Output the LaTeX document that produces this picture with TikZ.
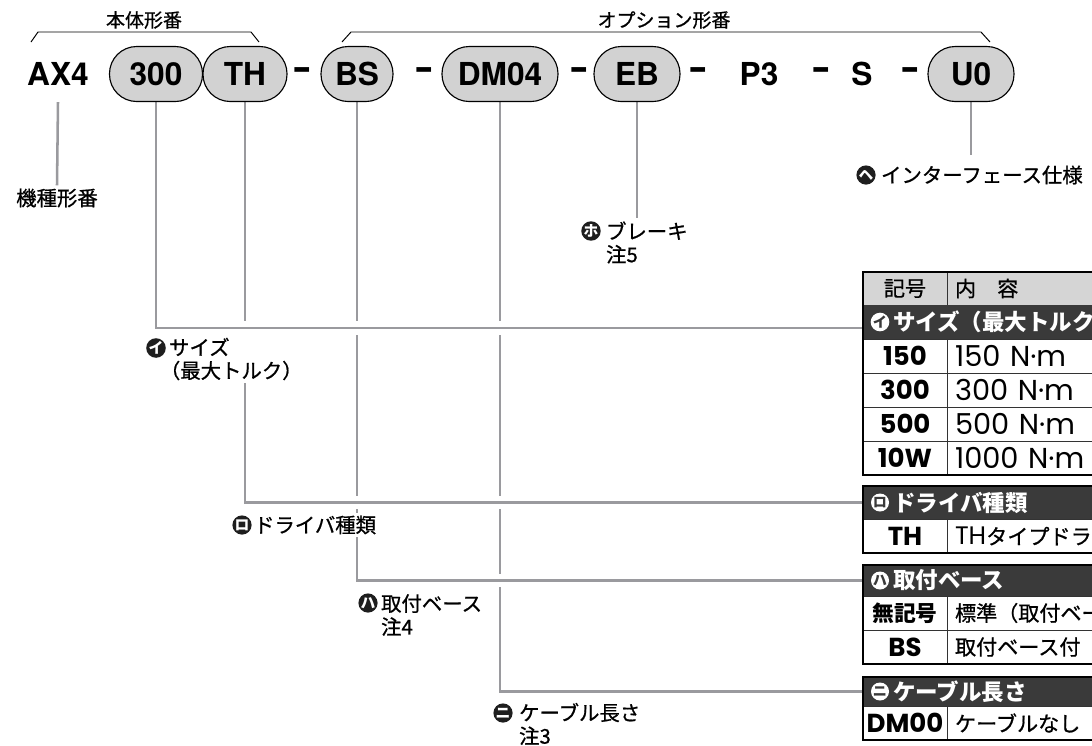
\documentclass[tikz,border=0pt]{standalone}
\usepackage{fontspec}
\setmainfont{Noto Sans CJK JP}
\newfontfamily\jpfont{Noto Sans CJK JP}
\newfontfamily\jpmed{Noto Sans CJK JP}[FakeBold=0.8]
\newfontfamily\codefont{TeX Gyre Heros}
\newfontfamily\numfont{Poppins}
\usepackage{graphicx}
\usepackage{tikz}
\usetikzlibrary{positioning}
\pgfdeclarelayer{back}
\pgfsetlayers{back,main}

\definecolor{pillgray}{HTML}{D2D2D2}
\definecolor{leadgray}{HTML}{9A9A9E}
\definecolor{banddark}{HTML}{3A3A3A}
\definecolor{hdrgray}{HTML}{D5D5D5}
\definecolor{markblack}{HTML}{1E1E1E}
\definecolor{tblline}{HTML}{333333}

\newcommand{\dashbar}{\scalebox{1.7}[1.1]{-}}

\begin{document}
\begin{tikzpicture}[
        x=0.025cm, y=-0.025cm,
        codetext/.style={inner sep=0pt, font=\codefont\bfseries\fontsize{22.5pt}{24pt}\selectfont},
        pill/.style={codetext, rectangle, rounded corners=0.68cm, draw=black, line width=0.8pt, fill=pillgray, minimum height=1.375cm},
        brk/.style={draw=black, line width=0.7pt},
        hdrlbl/.style={font=\jpmed\fontsize{13.5pt}{15pt}\selectfont},
        lbl/.style={fill=white, inner sep=2pt, align=left, font=\jpmed\fontsize{14.5pt}{16.5pt}\selectfont},
        katamark/.style={circle, fill=markblack, inner sep=0pt, minimum size=0.48cm, text=white, font=\jpfont\bfseries\fontsize{10.5pt}{11pt}\selectfont},
        bandmark/.style={circle, fill=white, inner sep=0pt, minimum size=0.45cm, text=banddark, font=\jpfont\bfseries\fontsize{10pt}{10pt}\selectfont},
        leadline/.style={draw=leadgray, line width=1.8pt, preaction={draw=white, line width=9.5pt}},
        cellbase/.style={draw=tblline, line width=0.6pt, inner sep=0pt, outer sep=0pt, minimum height=0.85cm},
        codecell/.style={cellbase, minimum width=2.1cm, font=\numfont\bfseries\fontsize{18.5pt}{20pt}\selectfont},
        desccell/.style={cellbase, minimum width=4.2cm, text width=3.8cm, align=left, font=\numfont\fontsize{20.5pt}{22pt}\selectfont},
        jpcell/.style={font=\jpmed\fontsize{15pt}{17pt}\selectfont},
        hdrcell/.style={fill=hdrgray, minimum height=0.825cm, font=\jpmed\fontsize{15pt}{17pt}\selectfont},
        band/.style={draw=banddark, fill=banddark, line width=0.6pt, inner sep=0pt, outer sep=0pt, minimum width=6.3cm, text width=6.3cm, minimum height=0.85cm, align=left, text=white, font=\jpfont\bfseries\fontsize{16pt}{18pt}\selectfont},
        tblframe/.style={draw=black, line width=1.3pt}
    ]
    \useasboundingbox (0,0) rectangle (1092,745);
    \clip (0,0) rectangle (1092,745);

    % model code row
    \node[codetext] (ax4) at (58,74) {AX4};
    \node[pill, minimum width=2.325cm] (p300) at (156,74) {300};
    \node[pill, minimum width=2.1cm] (pTH) at (245,74) {TH};
    \node[codetext] (dash1) at (302,74) {\dashbar};
    \node[pill, minimum width=1.8cm] (pBS) at (357,74) {BS};
    \node[codetext] (dash2) at (424,74) {\dashbar};
    \node[pill, minimum width=2.9cm] (pDM) at (500,74) {DM04};
    \node[codetext] (dash3) at (579,74) {\dashbar};
    \node[pill, minimum width=2.15cm] (pEB) at (637,74) {EB};
    \node[codetext] (dash4) at (698,74) {\dashbar};
    \node[codetext] (cP3) at (759,74) {P3};
    \node[codetext] (dash5) at (821,74) {\dashbar};
    \node[codetext] (cS) at (862,74) {S};
    \node[codetext] (dash6) at (910,74) {\dashbar};
    \node[pill, minimum width=2.15cm] (pU0) at (971,74) {U0};

    % brackets
    \draw[brk] (31,42) -- (38,32) -- (251,32) -- (259,42);
    \node[hdrlbl] (lblBody) at (144,20) {本体形番};
    \draw[brk] (342,42) -- (351,32) -- (981,32) -- (990,42);
    \node[hdrlbl] (lblOpt) at (664,20) {オプション形番};

    % labels
    \node[lbl] (kishu) at (57,198) {機種形番};
    \node[lbl, anchor=west] (lblI) at (166,359) {サイズ\\\hspace*{-0.45em}（最大トルク）};
    \node[katamark] (mI) at (156,348) {イ};
    \node[lbl, anchor=west] (lblRo) at (251,525) {ドライバ種類};
    \node[katamark] (mRo) at (242,525) {ロ};
    \node[lbl, anchor=west] (lblHa) at (378,615) {取付ベース\\注4};
    \node[katamark] (mHa) at (368,603) {ハ};
    \node[lbl, anchor=west] (lblNi) at (516,724) {ケーブル長さ\\注3};
    \node[katamark] (mNi) at (503,713) {ニ};
    \node[lbl, anchor=west] (lblHo) at (603,242.5) {ブレーキ\\注5};
    \node[katamark] (mHo) at (591,231) {ホ};
    \node[lbl, anchor=west] (lblHe) at (878,175) {インターフェース仕様};
    \node[katamark] (mHe) at (866,175) {ヘ};

    % table: size
    \node[codecell, hdrcell, anchor=north west] (hdrCode) at (863,272) {記号};
    \node[desccell, hdrcell, right=0pt of hdrCode] (hdrDesc) {内　容};
    \node[band, below=0pt of hdrCode.south west, anchor=north west] (bandI) {\mbox{\hspace*{0.75cm}サイズ（最大トルク}};
    \node[codecell, below=0pt of bandI.south west, anchor=north west] (c150) {150};
    \node[desccell, right=0pt of c150] (d150) {150 N·m};
    \node[codecell, below=0pt of c150] (c300) {300};
    \node[desccell, right=0pt of c300] (d300) {300 N·m};
    \node[codecell, below=0pt of c300] (c500) {500};
    \node[desccell, right=0pt of c500] (d500) {500 N·m};
    \node[codecell, below=0pt of c500] (c10W) {10W};
    \node[desccell, right=0pt of c10W] (d10W) {1000 N·m};
    \node[bandmark] (bmI) at ([xshift=0.425cm]bandI.west) {イ};

    % table: driver
    \node[band, anchor=north west, minimum height=0.825cm] (bandRo) at (863,486) {\mbox{\hspace*{0.75cm}ドライバ種類}};
    \node[codecell, below=0pt of bandRo.south west, anchor=north west] (cTH) {TH};
    \node[desccell, right=0pt of cTH] (dTH) {\mbox{\fontsize{18pt}{20pt}\selectfont TH\jpmed\fontsize{15pt}{17pt}\selectfont タイプドライ}};
    \node[bandmark] (bmRo) at ([xshift=0.425cm]bandRo.west) {ロ};

    % table: base
    \node[band, anchor=north west, minimum height=0.775cm] (bandHa) at (863,565) {\mbox{\hspace*{0.75cm}取付ベース}};
    \node[codecell, below=0pt of bandHa.south west, anchor=north west, font=\jpfont\bfseries\fontsize{15.5pt}{17pt}\selectfont] (cNone) {無記号};
    \node[desccell, jpcell, right=0pt of cNone] (dNone) {\mbox{標準（取付ベー}};
    \node[codecell, below=0pt of cNone] (cBS) {BS};
    \node[desccell, jpcell, right=0pt of cBS] (dBS) {取付ベース付};
    \node[bandmark] (bmHa) at ([xshift=0.425cm]bandHa.west) {ハ};

    % table: cable
    \node[band, anchor=north west, minimum height=0.725cm] (bandNi) at (863,677) {\mbox{\hspace*{0.75cm}ケーブル長さ}};
    \node[codecell, below=0pt of bandNi.south west, anchor=north west] (cDM00) {DM00};
    \node[desccell, jpcell, right=0pt of cDM00] (dDM00) {ケーブルなし};
    \node[bandmark] (bmNi) at ([xshift=0.425cm]bandNi.west) {ニ};

    \draw[tblframe] (hdrCode.north west) rectangle (d10W.south east);
    \draw[tblframe] (bandRo.north west) rectangle (dTH.south east);
    \draw[tblframe] (bandHa.north west) rectangle (dBS.south east);
    \draw[tblframe] (bandNi.north west) rectangle (dDM00.south east);

    % lead lines, back to front
    \begin{pgfonlayer}{back}
        \draw[leadline] (pDM.south) |- (bandNi.west);
        \draw[leadline] (pBS.south) |- (bandHa.west);
        \draw[leadline] (pTH.south) |- (bandRo.west);
        \draw[leadline] (p300.south) |- ([yshift=-0.15cm]bandI.west);
        \draw[leadline] (ax4.south |- p300.south) -- (kishu.north);
        \draw[leadline] (pEB.south) -- (pEB.south |- lblHo.north);
        \draw[leadline, shorten >=0.2cm] (pU0.south) -- (pU0.south |- lblHe.north);
    \end{pgfonlayer}
\end{tikzpicture}
\end{document}
